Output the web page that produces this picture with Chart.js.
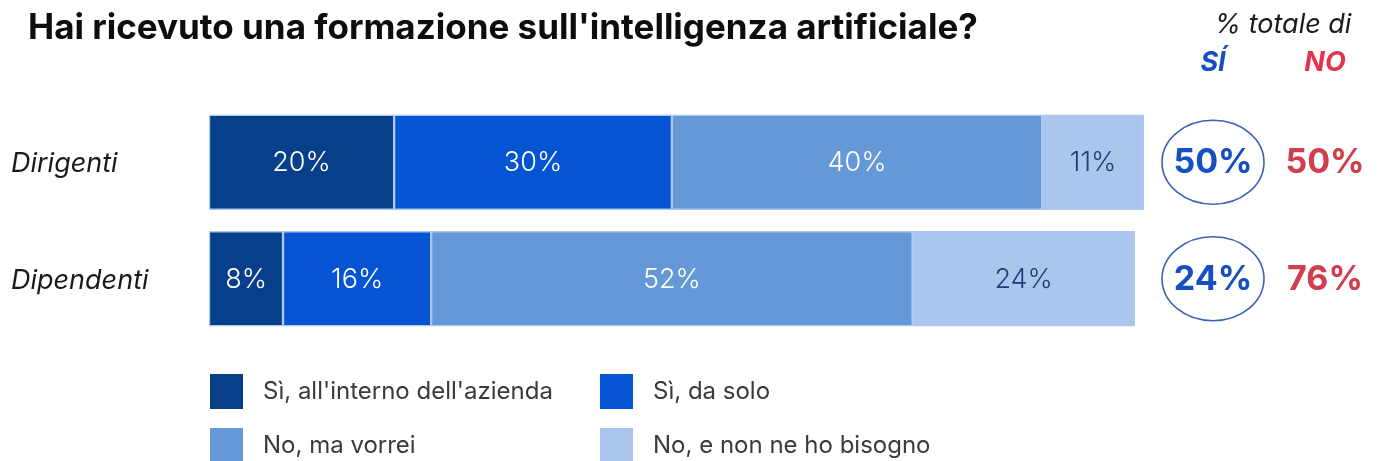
<!DOCTYPE html>
<html lang="it">
<head>
<meta charset="utf-8">
<title>Formazione sull'intelligenza artificiale</title>
<script src="https://cdn.jsdelivr.net/npm/chart.js@4/dist/chart.umd.min.js"></script>
<style>
  html, body { margin: 0; padding: 0; background: #ffffff; }
  #wrap { position: relative; width: 1381px; height: 461px; overflow: hidden; }
  canvas { display: block; }
</style>
</head>
<body>
<div id="wrap"><canvas id="chart" width="1381" height="461"></canvas></div>
<script>
// Survey groups and answer shares (%)
const categories = ['Dirigenti', 'Dipendenti'];
const seriesNames = ["Sì, all'interno dell'azienda", 'Sì, da solo', 'No, ma vorrei', 'No, e non ne ho bisogno'];
const internoAzienda = [20, 8];
const daSolo = [30, 16];
const maVorrei = [40, 52];
const nonNeHoBisogno = [11, 24];
// Totals shown on the right
const totaleSi = [50, 24];
const totaleNo = [50, 76];

const title = "Hai ricevuto una formazione sull'intelligenza artificiale?";
const FONT = 'Inter, "Noto Sans", sans-serif';

const colors = ['#073f8b', '#0454d3', '#6598d7', '#abc6ec'];
const labelColors = ['#ffffff', '#ffffff', '#ffffff', '#1d3f78'];

const seriesValues = [internoAzienda, daSolo, maVorrei, nonNeHoBisogno];

const datasets = seriesNames.map((name, i) => ({
  label: name,
  data: seriesValues[i],
  backgroundColor: colors[i],
  borderColor: 'rgba(168,198,238,0.95)',
  borderWidth: 1.5,
  borderSkipped: false,
  barThickness: 95
}));

// Draws title, category labels, value labels, totals and legend
const decorations = {
  id: 'decorations',
  afterDatasetsDraw(chart) {
    const ctx = chart.ctx;
    const yScale = chart.scales.y;
    ctx.save();

    // Title
    ctx.fillStyle = '#0d0d0d';
    ctx.font = '700 35px ' + FONT;
    ctx.textAlign = 'left';
    ctx.textBaseline = 'middle';
    ctx.fillText(title, 28, 28);

    // Category labels
    ctx.font = 'italic 400 27px ' + FONT;
    ctx.fillStyle = '#1a1a1a';
    categories.forEach((c, i) => {
      ctx.fillText(c, 11, yScale.getPixelForValue(i) + 2);
    });

    // Values inside segments
    ctx.font = '300 27px ' + FONT;
    ctx.textAlign = 'center';
    chart.data.datasets.forEach((ds, di) => {
      const meta = chart.getDatasetMeta(di);
      meta.data.forEach((bar, i) => {
        const x = (bar.x + bar.base) / 2;
        ctx.fillStyle = labelColors[di];
        ctx.fillText(ds.data[i] + '%', x, bar.y + 1);
      });
    });

    // Right-hand header
    ctx.font = 'italic 400 27px ' + FONT;
    ctx.fillStyle = '#1a1a1a';
    ctx.fillText('% totale di', 1283, 25);
    ctx.font = 'italic 700 27px ' + FONT;
    ctx.fillStyle = '#1650c0';
    ctx.fillText('SÍ', 1213, 63);
    ctx.fillStyle = '#e2344d';
    ctx.fillText('NO', 1325, 63);

    // Totals
    categories.forEach((c, i) => {
      const y = yScale.getPixelForValue(i);
      ctx.beginPath();
      ctx.ellipse(1213, y, 51, 42, 0, 0, Math.PI * 2);
      ctx.strokeStyle = '#3a62b3';
      ctx.lineWidth = 1.6;
      ctx.stroke();
      ctx.font = '700 34px ' + FONT;
      ctx.fillStyle = '#1650c0';
      ctx.fillText(totaleSi[i] + '%', 1213, y + 1);
      ctx.fillStyle = '#cf3f4d';
      ctx.fillText(totaleNo[i] + '%', 1325, y + 1);
    });

    // Legend (2 x 2)
    const cols = [210, 600];
    const rows = [391, 445];
    ctx.font = '400 24px ' + FONT;
    ctx.textAlign = 'left';
    chart.data.datasets.forEach((ds, di) => {
      const x = cols[di % 2];
      const y = rows[Math.floor(di / 2)];
      ctx.fillStyle = ds.backgroundColor;
      ctx.fillRect(x, y - 17, 33, 35);
      ctx.fillStyle = '#3a3a3a';
      ctx.fillText(ds.label, x + 53, y + 1);
    });

    ctx.restore();
  }
};

new Chart(document.getElementById('chart'), {
  type: 'bar',
  data: { labels: categories, datasets },
  options: {
    indexAxis: 'y',
    responsive: false,
    animation: false,
    layout: { padding: { left: 209, right: 237, top: 104, bottom: 124 } },
    scales: {
      x: { stacked: true, min: 0, max: 101, display: false },
      y: { stacked: true, display: false }
    },
    plugins: {
      legend: { display: false },
      tooltip: { enabled: false }
    }
  },
  plugins: [decorations]
});
</script>
</body>
</html>
